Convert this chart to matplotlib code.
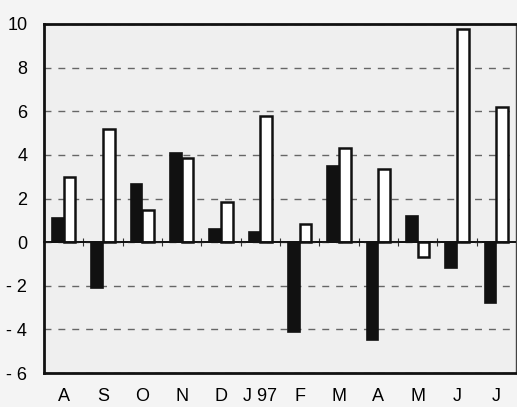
import numpy as np
import matplotlib
matplotlib.use('Agg')
import matplotlib.pyplot as plt

plt.rcParams['font.family'] = ['Liberation Sans', 'DejaVu Sans']

months = ['A', 'S', 'O', 'N', 'D', 'J 97', 'F', 'M', 'A', 'M', 'J', 'J']
black_vals = [1.1, -2.1, 2.65, 4.1, 0.6, 0.45, -4.1, 3.5, -4.5, 1.2, -1.2, -2.8]
white_vals = [3.0, 5.2, 1.45, 3.85, 1.85, 5.8, 0.85, 4.3, 3.35, -0.7, 9.75, 6.2]
ytick_vals = [-6, -4, -2, 0, 2, 4, 6, 8, 10]
ytick_labels = ['- 6', '- 4', '- 2', '0', '2', '4', '6', '8', '10']

fig = plt.figure(figsize=(5.17, 4.07), dpi=100, facecolor='#f4f4f4')
ax = fig.add_axes([44 / 517, 1 - 373 / 407, 472 / 517, 349 / 407])
ax.set_facecolor('#efefef')

x = np.arange(len(months))
w = 0.3
ax.bar(x - w / 2, black_vals, w, color='#111111', edgecolor='#111111', linewidth=1.2, zorder=3)
ax.bar(x + w / 2, white_vals, w, color='white', edgecolor='#111111', linewidth=1.8, zorder=3)

ax.set_xlim(-0.5, len(months) - 0.5)
ax.set_ylim(-6, 10)
ax.set_yticks(ytick_vals)
ax.set_yticklabels(ytick_labels, fontsize=13)
ax.set_xticks(x)
ax.set_xticklabels(months, fontsize=13)
ax.tick_params(axis='both', length=0)
ax.tick_params(axis='x', pad=11)
ax.tick_params(axis='y', pad=12)

ax.yaxis.grid(True, color='#666666', linestyle=(0, (5, 5)), linewidth=1.0, zorder=1)
ax.set_axisbelow(True)

# zero line with small ticks between categories
zero_ax = ax.secondary_xaxis(6 / 16)
zero_ax.set_xticks(x[:-1] + 0.5)
zero_ax.set_xticklabels([])
zero_ax.tick_params(direction='inout', length=6, width=0.8, color='#333333')
zero_ax.spines['bottom'].set_linewidth(1.2)
ax.axhline(0, color='#111111', linewidth=1.2, zorder=4)

for side in ['left', 'top', 'bottom']:
    ax.spines[side].set_linewidth(2.0)
    ax.spines[side].set_color('#111111')
ax.spines['right'].set_linewidth(1.0)
ax.spines['right'].set_color('#444444')

fig.savefig('out.png', dpi=100, facecolor=fig.get_facecolor())
